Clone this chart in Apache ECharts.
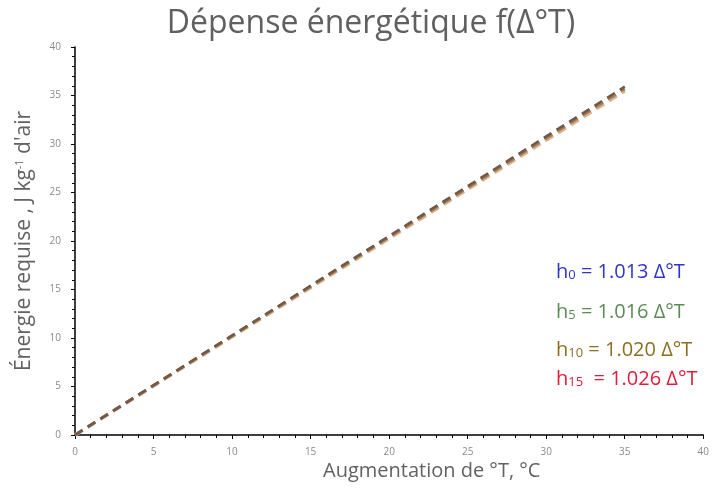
<!DOCTYPE html>
<html>
<head>
<meta charset="utf-8">
<script src="https://cdn.jsdelivr.net/npm/echarts@6/dist/echarts.min.js"></script>
<style>
  html, body { margin: 0; padding: 0; background: #fff; }
  #chart { width: 712px; height: 489px; }
</style>
</head>
<body>
<div id="chart"></div>
<script>
// Energy needed to heat one kg of air by ΔT, for four air humidity levels
const seriesNames = ['h0', 'h5', 'h10', 'h15'];
const subscripts = ['0', '5', '10', '15'];
const coefficients = ['1.013', '1.016', '1.020', '1.026'];
const deltaT = [0, 35];
const energyH0 = [0, 35.46];
const energyH5 = [0, 35.56];
const energyH10 = [0, 35.70];
const energyH15 = [0, 35.91];
const xTicks = [0, 5, 10, 15, 20, 25, 30, 35, 40];
const yTicks = [0, 5, 10, 15, 20, 25, 30, 35, 40];

const energies = [energyH0, energyH5, energyH10, energyH15];
const lineColors = ['#c9b8a6', '#eab07a', '#a47c58', '#6e5a4c'];
const lineWidths = [3.5, 3.2, 3, 2.6];
const labelColors = ['#3236c4', '#5f8a58', '#8a6f22', '#e21c3c'];
const labelTops = [262, 302, 340, 369];

const chart = echarts.init(document.getElementById('chart'));

const series = seriesNames.map((name, i) => ({
  name: name,
  type: 'line',
  data: deltaT.map((x, k) => [x, energies[i][k]]),
  symbol: 'none',
  lineStyle: { color: lineColors[i], width: lineWidths[i], type: [9, 6], cap: 'butt' },
  silent: true,
  z: 2 + i
}));

const equationLabels = seriesNames.map((name, i) => ({
  type: 'text',
  left: 556,
  top: labelTops[i],
  style: {
    text: '{b|h}{s|' + subscripts[i] + '}{b| ' + (i === 3 ? ' ' : '') + '= ' + coefficients[i] + ' Δ°T}',
    rich: {
      b: { fontSize: 20, fill: labelColors[i], fontFamily: 'Open Sans', verticalAlign: 'bottom' },
      s: { fontSize: 13, fill: labelColors[i], fontFamily: 'Open Sans', padding: [9, 0, 0, 0], verticalAlign: 'bottom' }
    }
  }
}));

// x-axis title, set slightly right of the plot centre
const xTitle = {
  type: 'text',
  left: 323,
  top: 461,
  style: { text: 'Augmentation de °T, °C', fontSize: 20, fill: '#626262', fontFamily: 'Open Sans' }
};

chart.setOption({
  animation: false,
  backgroundColor: '#fff',
  title: {
    text: 'Dépense énergétique f(Δ°T)',
    left: 366,
    textAlign: 'center',
    top: 3,
    textStyle: { fontSize: 32, fontWeight: 'normal', color: '#606060', fontFamily: 'Open Sans' }
  },
  grid: { left: 75, right: 8, top: 47, bottom: 54 },
  xAxis: {
    type: 'value',
    min: xTicks[0],
    max: xTicks[xTicks.length - 1],
    interval: 5,
    axisLine: { show: true, lineStyle: { color: '#000', width: 1.5 } },
    axisTick: { show: true, inside: false, length: 4, lineStyle: { color: '#000' } },
    minorTick: { show: true, splitNumber: 5, length: 3, lineStyle: { color: '#000' } },
    axisLabel: { fontSize: 10, color: '#8a8a8a', margin: 12, fontFamily: 'Open Sans' },
    splitLine: { show: false }
  },
  yAxis: {
    type: 'value',
    min: yTicks[0],
    max: yTicks[yTicks.length - 1],
    interval: 5,
    name: 'Énergie requise , J kg{sup|-1} d\'air',
    nameLocation: 'middle',
    nameGap: 40,
    nameRotate: 90,
    nameTextStyle: {
      fontSize: 21, color: '#626262', fontFamily: 'Open Sans',
      rich: { sup: { fontSize: 11, color: '#626262', fontFamily: 'Open Sans', padding: [0, 0, 10, 0] } }
    },
    axisLine: { show: true, lineStyle: { color: '#000', width: 1.5 } },
    axisTick: { show: true, inside: false, length: 4, lineStyle: { color: '#000' } },
    minorTick: { show: true, splitNumber: 5, length: 3, lineStyle: { color: '#000' } },
    axisLabel: { fontSize: 10, color: '#8a8a8a', margin: 14, fontFamily: 'Open Sans' },
    splitLine: { show: false }
  },
  series: series,
  graphic: equationLabels.concat([xTitle])
});
</script>
</body>
</html>
